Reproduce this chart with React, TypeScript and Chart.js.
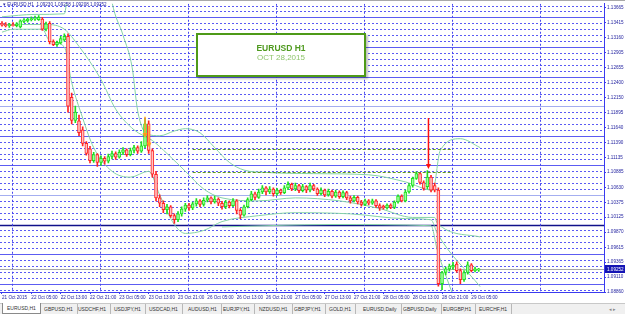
import React, { useEffect, useRef } from 'react';
import { Chart, registerables } from 'chart.js';
Chart.register(...registerables);

// ---------- data (prices in pips: 11340 = 1.13400) ----------
const OPEN = [11340,11338,11336,11338,11336,11334,11343,11344,11346,11347,11346,11347,11330,11340,11309,11304,11307,11312,11318,11215,11176,11175,11160,11137,11128,11108,11118,11105,11112,11107,11115,11120,11114,11122,11126,11118,11125,11130,11124,11133,11170,11125,11085,11045,11036,11025,11030,11015,11008,11018,11026,11033,11028,11035,11040,11034,11041,11045,11038,11043,11036,11030,11038,11032,11040,11024,11016,11030,11042,11052,11046,11055,11062,11055,11060,11052,11058,11054,11062,11068,11060,11066,11057,11064,11058,11066,11060,11052,11058,11050,11056,11048,11055,11047,11054,11045,11040,11046,11038,11034,11040,11036,11040,11032,11031,11028,11033,11029,11038,11048,11040,11055,11066,11078,11086,11071,11064,11080,11066,11058,10900,10919,10925,10928,10933,10922,10907,10919,10932,10922,10923];
const HIGH = [11343,11341,11340,11341,11341,11346,11348,11349,11351,11352,11353,11350,11342,11343,11312,11310,11318,11322,11322,11222,11200,11185,11165,11140,11132,11122,11120,11116,11115,11119,11124,11123,11126,11130,11128,11129,11134,11133,11140,11178,11175,11128,11090,11050,11040,11034,11032,11018,11022,11030,11036,11036,11038,11044,11042,11045,11049,11047,11048,11045,11039,11041,11040,11044,11042,11027,11033,11045,11056,11055,11060,11066,11064,11064,11062,11061,11060,11066,11072,11070,11070,11068,11068,11066,11070,11068,11062,11062,11060,11060,11058,11058,11057,11057,11056,11048,11049,11048,11041,11043,11042,11043,11042,11035,11033,11035,11035,11040,11050,11050,11058,11069,11080,11089,11088,11074,11091,11083,11070,11062,10921,10928,10933,10936,10937,10925,10922,10937,10934,10928,10925.8];
const LOW = [11335,11334,11333,11335,11334,11332,11341,11342,11344,11345,11345,11328,11327,11305,11302,11301,11305,11310,11190,11170,11172,11150,11133,11117,11104,11105,11098,11100,11102,11104,11111,11110,11112,11118,11115,11116,11121,11120,11122,11130,11120,11080,11040,11030,11020,11018,11012,11002,11005,11014,11022,11024,11025,11031,11030,11031,11038,11035,11036,11032,11026,11027,11028,11030,11018,11010,11014,11028,11040,11042,11044,11052,11050,11052,11048,11049,11051,11052,11059,11057,11057,11054,11055,11054,11055,11057,11049,11050,11047,11048,11045,11046,11044,11045,11042,11036,11038,11035,11031,11032,11033,11034,11029,11024,11026,11026,11027,11027,11036,11038,11038,11053,11063,11076,11068,11058,11060,11055,11055,10896,10890,10915,10921,10924,10919,10900,10904,10916,10920,10920,10920.8];
const CLOSE = [11337,11336,11338,11336,11339,11344,11346,11347,11348,11349,11350,11330,11339,11309,11304,11308,11314,11318,11200,11176,11190,11155,11137,11120,11108,11118,11105,11112,11107,11115,11120,11114,11122,11126,11118,11125,11130,11124,11133,11170,11125,11085,11045,11036,11025,11030,11015,11008,11018,11026,11033,11028,11035,11040,11034,11041,11045,11038,11043,11036,11030,11038,11032,11040,11024,11016,11030,11042,11052,11046,11055,11062,11055,11060,11052,11058,11054,11062,11068,11060,11066,11057,11064,11058,11066,11060,11052,11058,11050,11056,11048,11055,11047,11054,11045,11040,11046,11038,11034,11040,11036,11040,11032,11028,11028,11033,11029,11038,11048,11040,11055,11066,11078,11086,11071,11061,11080,11058,11058,10900,10919,10925,10930,10931,10922,10907,10919,10932,10922,10925,10925.2];

// indicator lines: [bar index, price in pips]
const BAND_UPPER: number[][] = [[0,11351],[9,11355],[17,11356],[18.6,11420],[29,11420],[30,11376],[33,11320],[35.5,11265],[37,11192],[39.5,11153],[43,11150],[47,11158],[50,11162],[54,11155],[58,11130],[62,11105],[66,11092],[72,11088],[85,11086],[100,11084],[110,11072],[117.5,11058],[119.5,11125],[125,11145],[130.4,11130]];
const BAND_MIDDLE: number[][] = [[0,11338],[12,11338],[17,11330],[21,11301],[27,11245],[31,11195],[36,11160],[41,11142],[45,11120],[50,11090],[55,11060],[60,11045],[70,11040],[80,11045],[92,11040],[103,11027],[112,11012],[118,11012],[118.7,11002],[130.4,10979]];
const BAND_LOWER: number[][] = [[0,11325],[3,11330],[11,11330],[13,11310],[17,11300],[19,11240],[22,11180],[25,11130],[30,11090],[35,11080],[40,11090],[43,11050],[47,11000],[50,10985],[55,10990],[60,11005],[70,11015],[80,11020],[95,11018],[110,11010],[117,11008],[118.7,10985],[130.4,10895]];
const BAND_LOWER_OUTER: number[][] = [[60,10996],[90,11000],[117,10998],[118.7,10957],[123,10880]];

const LEVEL_PRICES = [11128, 11088];
const LEVEL_FROM_BAR = 52;
const LEVEL_TO_BAR = 123;
// arrows: [bar, from price, to price]
const RED_ARROW = [116.3, 11180, 11094];
const ORANGE_ARROWS = [[39, 11182, 11146], [40.1, 11167, 11130]];

const X_TICK_BARS = [0,8,16,24,32,40,48,56,64,72,80,88,96,104,112,120,128];
const X_TICK_LABELS = ['21 Oct 2015','22 Oct 05:00','22 Oct 13:00','22 Oct 21:00','23 Oct 05:00','23 Oct 13:00','23 Oct 21:00','26 Oct 05:00','26 Oct 13:00','26 Oct 21:00','27 Oct 05:00','27 Oct 13:00','27 Oct 21:00','28 Oct 05:00','28 Oct 13:00','28 Oct 21:00','29 Oct 05:00'];
const DAY_SEPARATOR_BARS = [3, 27, 51, 75, 99, 123, 147];
const Y_TICKS = [1.13665,1.13415,1.13160,1.12905,1.12655,1.12400,1.12150,1.11895,1.11640,1.11390,1.11135,1.10885,1.10630,1.10375,1.10125,1.09870,1.09615,1.09365,1.09110,1.08860];
const TABS = ['EURUSD,H1','GBPUSD,H1','USDCHF,H1','USDJPY,H1','USDCAD,H1','AUDUSD,H1','EURJPY,H1','NZDUSD,H1','GBPJPY,H1','GOLD,H1','EURUSD,Daily','GBPUSD,Daily','EURGBP,H1','EURCHF,H1'];

const PIP = 10000;
const Y_MIN = 1.0886, Y_MAX = 1.1373;
const X_MIN = -0.545, X_MAX = 164.17;

const AXIS_TEXT = '#1e1e9e';
const GRID_BLUE = '#5a5af4';
const BAND_COLOR = '#86d3a6';
const FONT = 'Liberation Sans';

const gridPlugin = {
  id: 'mtGrid',
  beforeDatasetsDraw(chart: any) {
    const { ctx, chartArea: a, scales } = chart;
    const x = scales.x, y = scales.y;
    ctx.save();
    ctx.beginPath();
    ctx.rect(a.left, a.top, a.right - a.left, a.bottom - a.top);
    ctx.clip();
    ctx.lineWidth = 1;
    for (let p = 10870; p <= 11370; p += 10) {
      const py = Math.round(y.getPixelForValue(p / PIP)) + 0.5;
      const major = p % 50 === 0;
      ctx.beginPath();
      if (major) {
        ctx.setLineDash([]);
        ctx.strokeStyle = p === 11000 ? '#10108a' : (p === 11200 || p === 11050) ? '#a4aef0' : '#5c5cf2';
        ctx.lineWidth = p === 11000 ? 1.5 : 1;
      } else {
        ctx.setLineDash([2, 2]);
        ctx.strokeStyle = GRID_BLUE;
        ctx.lineWidth = 1;
      }
      ctx.moveTo(a.left, py);
      ctx.lineTo(a.right, py);
      ctx.stroke();
    }
    ctx.setLineDash([2, 2]);
    ctx.strokeStyle = '#4848f0';
    ctx.lineWidth = 1;
    for (const b of DAY_SEPARATOR_BARS) {
      const px = Math.round(x.getPixelForValue(b)) - 0.5;
      ctx.beginPath();
      ctx.moveTo(px, a.top);
      ctx.lineTo(px, a.bottom);
      ctx.stroke();
    }
    ctx.setLineDash([]);
    ctx.strokeStyle = '#a8a8a8';
    const last = CLOSE[CLOSE.length - 1] / PIP;
    const ly = Math.round(y.getPixelForValue(last)) + 0.5;
    ctx.beginPath();
    ctx.moveTo(a.left, ly);
    ctx.lineTo(a.right, ly);
    ctx.stroke();
    ctx.restore();
  },
  afterDatasetsDraw(chart: any) {
    const { ctx, chartArea: a, scales } = chart;
    const x = scales.x, y = scales.y;
    ctx.save();
    ctx.strokeStyle = '#5f9a1c';
    ctx.lineWidth = 1;
    ctx.setLineDash([3, 2]);
    for (const p of LEVEL_PRICES) {
      const py = Math.round(y.getPixelForValue(p / PIP)) + 0.5;
      ctx.beginPath();
      ctx.moveTo(x.getPixelForValue(LEVEL_FROM_BAR), py);
      ctx.lineTo(x.getPixelForValue(LEVEL_TO_BAR), py);
      ctx.stroke();
    }
    ctx.setLineDash([]);
    const arrow = (b: number, p1: number, p2: number, color: string) => {
      const px = x.getPixelForValue(b);
      const y1 = y.getPixelForValue(p1 / PIP);
      const y2 = y.getPixelForValue(p2 / PIP);
      ctx.strokeStyle = color;
      ctx.fillStyle = color;
      ctx.lineWidth = 1.5;
      ctx.beginPath();
      ctx.moveTo(px, y1);
      ctx.lineTo(px, y2 - 3);
      ctx.stroke();
      ctx.beginPath();
      ctx.moveTo(px - 2.5, y2 - 5);
      ctx.lineTo(px + 2.5, y2 - 5);
      ctx.lineTo(px, y2);
      ctx.closePath();
      ctx.fill();
    };
    arrow(RED_ARROW[0], RED_ARROW[1], RED_ARROW[2], '#ff1010');
    for (const o of ORANGE_ARROWS) arrow(o[0], o[1], o[2], '#ff9c1c');
    const last = CLOSE[CLOSE.length - 1] / PIP;
    const ly = Math.round(y.getPixelForValue(last));
    ctx.fillStyle = '#1414b4';
    ctx.fillRect(a.right + 1, ly - 4, 21, 8);
    ctx.fillStyle = '#ffffff';
    ctx.font = `4.6px "${FONT}"`;
    ctx.textBaseline = 'middle';
    ctx.textAlign = 'left';
    ctx.fillText(last.toFixed(5), a.right + 3, ly + 0.5);
    ctx.restore();
  },
};

export default function App() {
  const ref = useRef<HTMLCanvasElement>(null);
  useEffect(() => {
    const bars = OPEN.map((_, i) => i);
    const up = (i: number) => CLOSE[i] >= OPEN[i];
    const band = (pts: number[][]) => ({
      type: 'line' as const,
      data: pts.map(([b, p]) => ({ x: b, y: p / PIP })),
      borderColor: BAND_COLOR,
      borderWidth: 1,
      pointRadius: 0,
      cubicInterpolationMode: 'monotone' as const,
      order: 5,
    });
    const chart = new Chart(ref.current as HTMLCanvasElement, {
      type: 'bar',
      data: {
        datasets: [
          band(BAND_UPPER) as any,
          band(BAND_MIDDLE) as any,
          band(BAND_LOWER) as any,
          band(BAND_LOWER_OUTER) as any,
          {
            type: 'bar',
            data: bars.map((i) => ({ x: i, y: [LOW[i] / PIP, HIGH[i] / PIP] })),
            backgroundColor: bars.map((i) => (up(i) ? '#1ee01e' : '#ff2424')),
            barThickness: 1,
            grouped: false,
            order: 2,
          } as any,
          {
            type: 'bar',
            data: bars.map((i) => ({ x: i, y: [OPEN[i] / PIP, CLOSE[i] / PIP] })),
            backgroundColor: bars.map((i) => (up(i) ? '#9dff9d' : '#ffc4c4')),
            borderColor: bars.map((i) => (up(i) ? '#1ee01e' : '#ff2424')),
            borderWidth: 1,
            borderSkipped: false,
            barThickness: 3,
            minBarLength: 1,
            grouped: false,
            order: 1,
          } as any,
        ],
      },
      options: {
        animation: false,
        responsive: false,
        maintainAspectRatio: false,
        events: [],
        layout: { padding: { top: 2, left: 0, right: 0, bottom: 0 } },
        plugins: { legend: { display: false }, tooltip: { enabled: false } },
        scales: {
          x: {
            type: 'linear',
            min: X_MIN,
            max: X_MAX,
            offset: false,
            afterBuildTicks: (s: any) => { s.ticks = X_TICK_BARS.map((v) => ({ value: v })); },
            afterFit: (s: any) => { s.height = 11; },
            ticks: {
              autoSkip: false,
              maxRotation: 0,
              align: 'start',
              padding: 1,
              color: AXIS_TEXT,
              font: { size: 4.6, family: FONT },
              callback: (_v: any, i: number) => X_TICK_LABELS[i],
            },
            grid: { display: true, drawOnChartArea: false, drawTicks: true, tickLength: 2, color: '#3a3af0', offset: false },
            border: { display: true, color: '#3a3af0', width: 1 },
          },
          y: {
            type: 'linear',
            position: 'right',
            min: Y_MIN,
            max: Y_MAX,
            afterBuildTicks: (s: any) => { s.ticks = Y_TICKS.map((v) => ({ value: v })); },
            afterFit: (s: any) => { s.width = 21; },
            ticks: {
              autoSkip: false,
              padding: 1,
              color: AXIS_TEXT,
              font: { size: 4.6, family: FONT },
              callback: (v: any) => Number(v).toFixed(5),
            },
            grid: { display: true, drawOnChartArea: false, drawTicks: true, tickLength: 2, color: '#3a3af0' },
            border: { display: true, color: '#3a3af0', width: 1 },
          },
        },
      } as any,
      plugins: [gridPlugin],
    });
    return () => chart.destroy();
  }, []);

  const tabX = [2, 40, 74, 110, 145, 184, 219, 255, 290, 325, 359, 399, 439, 475];
  const last = OPEN.length - 1;
  const fmt = (p: number) => (p / PIP).toFixed(5);
  return (
    <div style={{ position: 'relative', width: 625, height: 314, overflow: 'hidden', background: '#ffffff', fontFamily: FONT }}>
      <style>{'body{margin:0}'}</style>
      <div style={{ position: 'absolute', left: 0, top: 0, width: 625, height: 1, background: '#a8a8a8' }} />
      <canvas ref={ref} width={625} height={303} style={{ position: 'absolute', left: 0, top: 0, width: 625, height: 303 }} />
      <div style={{ position: 'absolute', left: 3, top: 1.5, fontSize: 4.6, color: AXIS_TEXT, whiteSpace: 'pre', lineHeight: '6px' }}>
        {`▾ EURUSD,H1  ${fmt(OPEN[last])} ${fmt(HIGH[last])} ${fmt(LOW[last])} ${fmt(CLOSE[last])}`}
      </div>
      <div style={{ position: 'absolute', left: 196, top: 33, width: 166, height: 40, border: '2px solid #4e9a18', background: '#ffffff', boxShadow: '2px 2px 2px rgba(0,0,0,0.25)', textAlign: 'center' }}>
        <div style={{ marginTop: 8, fontSize: 8.5, fontWeight: 'bold', color: '#4f9a1f', lineHeight: '10px' }}>EURUSD H1</div>
        <div style={{ fontSize: 8, color: '#8fc56c', lineHeight: '10px' }}>OCT 28,2015</div>
      </div>
      <div style={{ position: 'absolute', left: 0, top: 303, width: 625, height: 11, background: '#f0f0f0', borderTop: '1px solid #c8c8c8', boxSizing: 'border-box' }}>
        {TABS.map((t, i) => (
          <div key={t} style={{ position: 'absolute', left: tabX[i], top: i === 0 ? -1 : 0, height: i === 0 ? 11 : 10, padding: '0 4px', fontSize: 5, lineHeight: '10px', color: '#333', background: i === 0 ? '#ffffff' : 'transparent', border: i === 0 ? '1px solid #8a8a8a' : 'none', borderTop: 'none', boxSizing: 'border-box', whiteSpace: 'nowrap', borderRight: i === 0 ? '1px solid #8a8a8a' : '1px solid #b8b8b8' }}>
            {t}
          </div>
        ))}
        <div style={{ position: 'absolute', left: 609, top: 0, fontSize: 5, lineHeight: '10px', color: '#888' }}>◂ ▸</div>
      </div>
    </div>
  );
}
